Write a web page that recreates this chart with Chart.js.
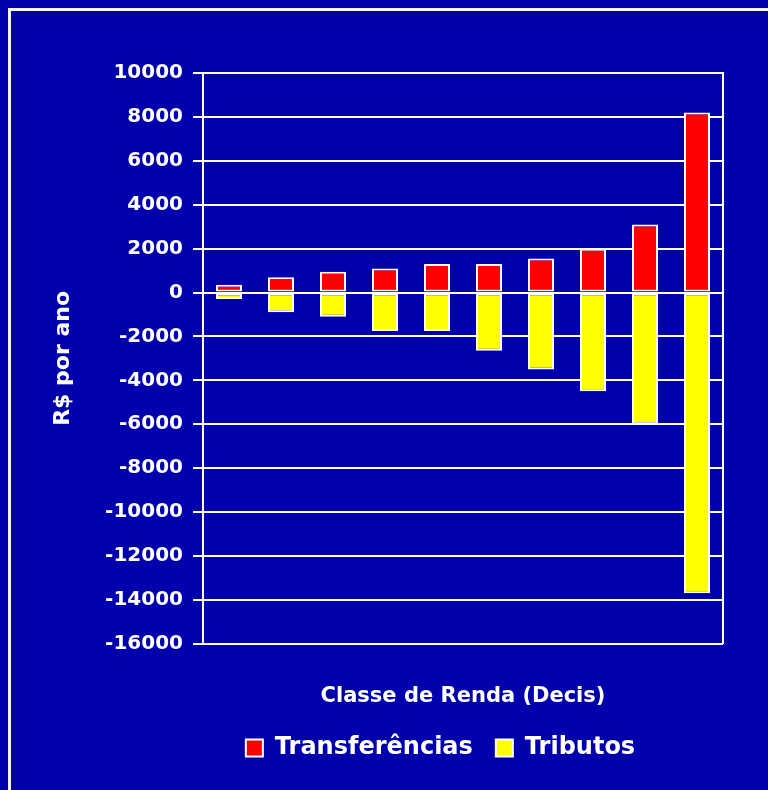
<!DOCTYPE html>
<html>
<head>
<meta charset="utf-8">
<script src="https://cdn.jsdelivr.net/npm/chart.js@4"></script>
<style>
  html, body { margin: 0; padding: 0; background: #0000AD; overflow: hidden; }
  #wrap { position: relative; width: 768px; height: 790px; overflow: hidden; }
  #frame { position: absolute; left: 8px; top: 8px; width: 900px; height: 900px;
           border-top: 3px solid #f4f4ff; border-left: 3px solid #f4f4ff; box-sizing: border-box; }
  canvas { position: absolute; left: 0; top: 0; }
</style>
</head>
<body>
<div id="wrap">
  <div id="frame"></div>
  <canvas id="c" width="768" height="790"></canvas>
</div>
<script>
const categories = ["1", "2", "3", "4", "5", "6", "7", "8", "9", "10"];
const transferencias = [350, 700, 950, 1100, 1300, 1300, 1550, 2000, 3100, 8200];
const tributos = [-300, -900, -1100, -1750, -1750, -2650, -3500, -4500, -6000, -13700];
const yTicks = [10000, 8000, 6000, 4000, 2000, 0, -2000, -4000, -6000, -8000, -10000, -12000, -14000, -16000];

const FONT = "'DejaVu Sans', 'Liberation Sans', Arial, sans-serif";
const WHITE = '#ffffff';

const legendShift = {
  id: 'legendShift',
  afterLayout(chart) {
    if (chart.legend) { chart.legend.left += 54; chart.legend.right += 54; }
  }
};

new Chart(document.getElementById('c'), {
  type: 'bar',
  plugins: [legendShift],
  data: {
    labels: categories,
    datasets: [
      { label: 'Transferências', data: transferencias, backgroundColor: '#ff0000',
        borderColor: WHITE, borderWidth: 2, borderSkipped: false },
      { label: 'Tributos', data: tributos, backgroundColor: '#ffff00',
        borderColor: WHITE, borderWidth: 2, borderSkipped: false }
    ]
  },
  options: {
    responsive: false,
    animation: false,
    devicePixelRatio: 1,
    layout: { padding: { left: 50, right: 45, top: 73, bottom: 20 } },
    datasets: { bar: { barPercentage: 0.5, categoryPercentage: 1.0 } },
    plugins: {
      tooltip: { enabled: false },
      legend: {
        position: 'bottom',
        labels: {
          color: WHITE,
          font: { family: FONT, size: 24, weight: 'bold' },
          boxWidth: 17, boxHeight: 17, padding: 23,
          generateLabels(chart) {
            return chart.data.datasets.map((d, i) => ({
              text: d.label, fillStyle: d.backgroundColor, strokeStyle: WHITE,
              lineWidth: 2, fontColor: WHITE, datasetIndex: i, hidden: false
            }));
          }
        }
      }
    },
    scales: {
      x: {
        stacked: true,
        grid: { display: false },
        border: { display: false },
        ticks: { display: false },
        title: { display: true, text: 'Classe de Renda (Decis)', color: WHITE,
                 font: { family: FONT, size: 21, weight: 'bold' },
                 padding: { top: 32, bottom: 4 } }
      },
      y: {
        stacked: true,
        min: -16000, max: 10000,
        afterBuildTicks(scale) { scale.ticks = yTicks.map(v => ({ value: v })); },
        afterFit(scale) { scale.width = 153; },
        grid: { color: WHITE, lineWidth: 2, tickLength: 10, drawTicks: true },
        border: { display: true, color: WHITE, width: 2 },
        ticks: { color: WHITE, padding: 10, font: { family: FONT, size: 20, weight: 'bold' },
                 callback: v => String(v) },
        title: { display: true, text: 'R$ por ano', color: WHITE,
                 font: { family: FONT, size: 22, weight: 'bold' },
                 padding: { top: 0, bottom: 0 } }
      },
      y2: {
        position: 'right',
        min: -16000, max: 10000,
        afterFit(scale) { scale.width = 0; },
        grid: { display: false },
        border: { display: true, color: WHITE, width: 2 },
        ticks: { display: false }
      }
    }
  }
});
</script>
</body>
</html>
